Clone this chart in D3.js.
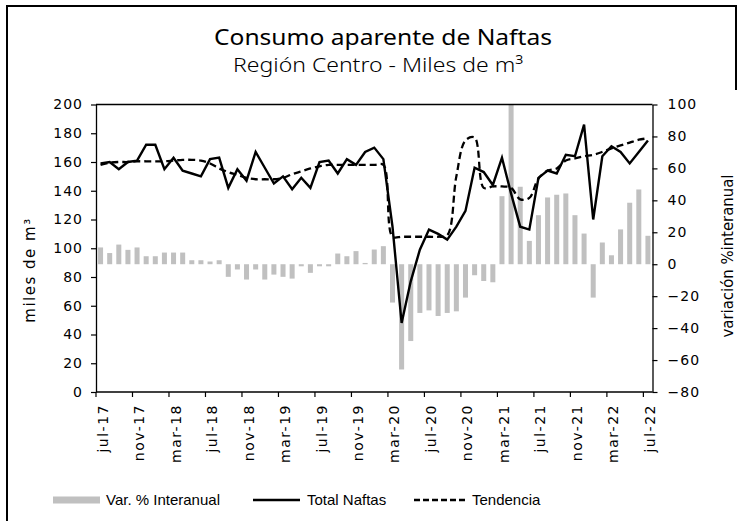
<!DOCTYPE html>
<html>
<head>
<meta charset="utf-8">
<script src="https://cdn.jsdelivr.net/npm/d3@7"></script>
<style>
  html, body { margin: 0; padding: 0; background: #fff; }
  svg { display: block; }
  text { fill: #000; }
</style>
</head>
<body>
<svg id="chart" width="739" height="521"></svg>
<script>
// Monthly categories, jul-17 .. jul-22
const months = [
  "jul-17","ago-17","sep-17","oct-17","nov-17","dic-17",
  "ene-18","feb-18","mar-18","abr-18","may-18","jun-18",
  "jul-18","ago-18","sep-18","oct-18","nov-18","dic-18",
  "ene-19","feb-19","mar-19","abr-19","may-19","jun-19",
  "jul-19","ago-19","sep-19","oct-19","nov-19","dic-19",
  "ene-20","feb-20","mar-20","abr-20","may-20","jun-20",
  "jul-20","ago-20","sep-20","oct-20","nov-20","dic-20",
  "ene-21","feb-21","mar-21","abr-21","may-21","jun-21",
  "jul-21","ago-21","sep-21","oct-21","nov-21","dic-21",
  "ene-22","feb-22","mar-22","abr-22","may-22","jun-22",
  "jul-22"
];

// Total Naftas (miles de m3)
const totalNaftas = [
  159,160,155,160,161,172,172,155,163,154,152,150,
  162,163,142,155,147,167,156,145,150,141,149,142,
  160,161,152,162,158,167,170,162,115,48,77,99,
  113,110,106,115,126,156,153,144,163,138,115,113,
  149,154,152,165,164,186,120,164,171,167,159,167,
  175
];

// Tendencia (miles de m3)
const tendencia = [
  158,159.5,160,160,160.5,160.5,160.5,160.5,161,161.5,161.5,161,
  159,155.5,153,151,149,148,148,148,149,151.5,153.5,155.5,
  157,158,158,158,158,158,158,158,108,108,108,108,
  108,108,109,150,175,177,142,143,143,142,134,135,
  148.5,154,155.5,161,162.5,164,165,167,169.5,171.5,173.5,175.5,
  176.5
];

// Variación % interanual
const varInteranual = [
  10.5,7,12.3,9,10.5,5,5,7.3,7.3,7.3,2.5,2.5,
  1.7,2.5,-7.9,-3.3,-9.6,-3.3,-9.6,-6.5,-7.9,-9,-1.3,-5.4,
  -1.3,-1.3,6.7,5,8.2,0.8,9.2,11.3,-24,-65.9,-48.1,-30.5,
  -28.9,-32.4,-30.5,-29.5,-20.9,-6.9,-10.5,-11.3,42.6,100,48.5,14.6,
  30.7,41.8,43.5,44.3,30.7,19.2,-20.9,13.6,5.6,21.8,38.5,46.8,
  17.8
];

const tickMonths = ["jul-17","nov-17","mar-18","jul-18","nov-18","mar-19","jul-19",
  "nov-19","mar-20","jul-20","nov-20","mar-21","jul-21","nov-21","mar-22","jul-22"];
const leftTicks = [0,20,40,60,80,100,120,140,160,180,200];
const rightTicks = [-80,-60,-40,-20,0,20,40,60,80,100];

const titleText = "Consumo aparente de Naftas";
const subtitleText = "Región Centro - Miles de m³";
const leftTitle = "miles de m³";
const rightTitle = "variación %interanual";
const legendLabels = ["Var. % Interanual", "Total Naftas", "Tendencia"];

const svg = d3.select("#chart");
const W = 739, H = 521;
const plot = { left: 96, right: 652.5, top: 104.5, bottom: 392 };
const axisFont = "'DejaVu Sans', sans-serif";

svg.append("rect").attr("width", W).attr("height", H).attr("fill", "#fff");

// outer frame: left and top edges, short right edge
svg.append("path")
  .attr("d", `M7,${H} L7,6 L736,6 L736,90`)
  .attr("fill", "none").attr("stroke", "#000").attr("stroke-width", 2);

const x = d3.scaleBand().domain(months).range([plot.left, plot.right])
  .paddingInner(0.45).paddingOuter(0.225);
const step = x.step();
const cx = d => x(d) + x.bandwidth() / 2;
const yL = d3.scaleLinear().domain([0, 200]).range([plot.bottom, plot.top]);
const yR = d3.scaleLinear().domain([-80, 100]).range([plot.bottom, plot.top]);

const defs = svg.append("defs");
defs.append("clipPath").attr("id", "plotClip").append("rect")
  .attr("x", plot.left).attr("y", plot.top)
  .attr("width", plot.right - plot.left).attr("height", plot.bottom - plot.top);

// bars: variación % interanual
svg.append("g").attr("clip-path", "url(#plotClip)")
  .selectAll("rect").data(months).join("rect")
  .attr("x", d => x(d))
  .attr("width", x.bandwidth())
  .attr("y", (d, i) => yR(Math.max(0, varInteranual[i])))
  .attr("height", (d, i) => Math.abs(yR(varInteranual[i]) - yR(0)))
  .attr("fill", "#c0c0c0");

// plot frame top
svg.append("line").attr("x1", plot.left).attr("x2", plot.right)
  .attr("y1", plot.top).attr("y2", plot.top)
  .attr("stroke", "#000").attr("stroke-width", 1.3);

const pairs = arr => months.map((m, i) => [m, arr[i]]);

// trend line (smoothed, dashed)
svg.append("path").datum(pairs(tendencia))
  .attr("d", d3.line().x(d => cx(d[0])).y(d => yL(d[1])).curve(d3.curveCatmullRom.alpha(0.5)))
  .attr("fill", "none").attr("stroke", "#000").attr("stroke-width", 2.3)
  .attr("stroke-dasharray", "7,4");

// total line
svg.append("path").datum(pairs(totalNaftas))
  .attr("d", d3.line().x(d => cx(d[0])).y(d => yL(d[1])))
  .attr("fill", "none").attr("stroke", "#000").attr("stroke-width", 2.4)
  .attr("stroke-linejoin", "miter");

// left axis
const gL = svg.append("g").attr("transform", `translate(${plot.left},0)`)
  .call(d3.axisLeft(yL).tickValues(leftTicks).tickSize(5).tickPadding(8).tickSizeOuter(0));
// right axis
const gR = svg.append("g").attr("transform", `translate(${plot.right},0)`)
  .call(d3.axisRight(yR).tickValues(rightTicks).tickSize(5).tickPadding(10).tickSizeOuter(0));
[gL, gR].forEach(g => {
  g.select(".domain").attr("stroke", "#000").attr("stroke-width", 1.3);
  g.selectAll(".tick line").attr("stroke", "#000").attr("stroke-width", 1.2);
  g.selectAll(".tick text").attr("font-family", axisFont).attr("font-size", 14)
    .attr("fill", "#000").style("letter-spacing", "1px");
});

// bottom category axis: ticks at category boundaries, labels at centers
const gB = svg.append("g");
gB.append("line").attr("x1", plot.left).attr("x2", plot.right)
  .attr("y1", plot.bottom).attr("y2", plot.bottom)
  .attr("stroke", "#000").attr("stroke-width", 1.3);
const boundary = d => x(d) - step * x.paddingInner() / 2;
gB.selectAll("line.tk").data(tickMonths).join("line").attr("class", "tk")
  .attr("x1", d => boundary(d)).attr("x2", d => boundary(d))
  .attr("y1", plot.bottom).attr("y2", plot.bottom + 5)
  .attr("stroke", "#000").attr("stroke-width", 1.2);
gB.selectAll("text").data(tickMonths).join("text")
  .attr("transform", d => `translate(${cx(d) + 7},${plot.bottom + 12}) rotate(-90)`)
  .attr("text-anchor", "end")
  .attr("font-family", axisFont).attr("font-size", 14)
  .style("letter-spacing", "1.5px")
  .text(d => d);

// titles
svg.append("text").attr("x", 383).attr("y", 45).attr("text-anchor", "middle")
  .attr("font-family", "'Noto Sans', sans-serif").attr("font-size", 22)
  .attr("textLength", 338).attr("lengthAdjust", "spacingAndGlyphs").text(titleText);
svg.append("text").attr("x", 378).attr("y", 72).attr("text-anchor", "middle")
  .attr("font-family", "'Noto Sans', sans-serif").attr("font-size", 20).attr("font-weight", 300)
  .attr("textLength", 290).attr("lengthAdjust", "spacingAndGlyphs").text(subtitleText);

// axis titles
svg.append("text").attr("transform", "translate(35,270) rotate(-90)")
  .attr("text-anchor", "middle").attr("font-family", axisFont).attr("font-size", 15)
  .style("letter-spacing", "1.5px").text(leftTitle);
svg.append("text").attr("transform", "translate(733,256) rotate(-90)")
  .attr("text-anchor", "middle").attr("font-family", axisFont).attr("font-size", 16)
  .attr("textLength", 163).attr("lengthAdjust", "spacingAndGlyphs")
  .text(rightTitle);

// legend
const legY = 500;
const legFont = "'Liberation Sans', Arial, sans-serif";
const leg = svg.append("g");
leg.append("rect").attr("x", 53).attr("y", legY - 3.5).attr("width", 47).attr("height", 7).attr("fill", "#c0c0c0");
leg.append("line").attr("x1", 253).attr("x2", 300).attr("y1", legY).attr("y2", legY)
  .attr("stroke", "#000").attr("stroke-width", 2.4);
leg.append("line").attr("x1", 414).attr("x2", 466).attr("y1", legY).attr("y2", legY)
  .attr("stroke", "#000").attr("stroke-width", 2.4).attr("stroke-dasharray", "6,3");
const legX = [106, 307, 472];
leg.selectAll("text").data(legendLabels).join("text")
  .attr("x", (d, i) => legX[i]).attr("y", legY + 5)
  .attr("font-family", legFont).attr("font-size", 15)
  .text(d => d);
</script>
</body>
</html>
